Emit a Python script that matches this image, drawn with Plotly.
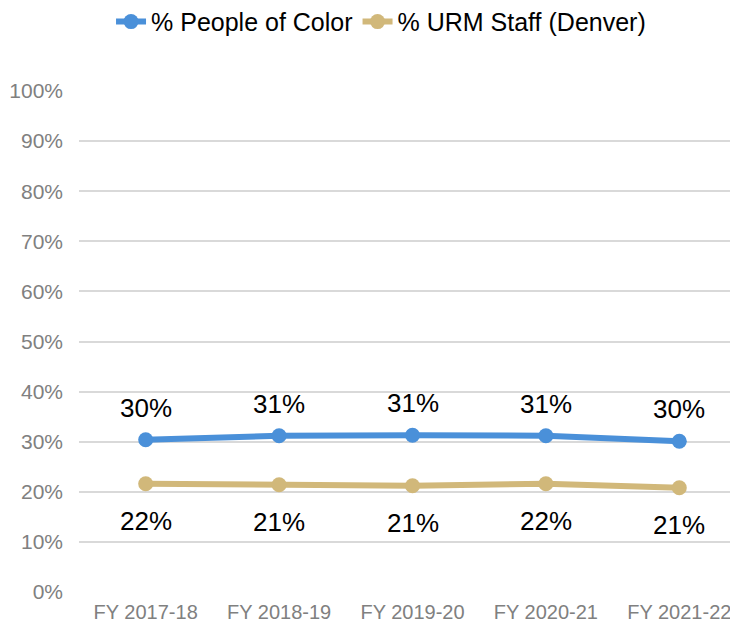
import plotly.graph_objects as go

categories = ["FY 2017-18", "FY 2018-19", "FY 2019-20", "FY 2020-21", "FY 2021-22"]
poc = [30.4, 31.2, 31.3, 31.2, 30.1]
urm = [21.6, 21.4, 21.2, 21.6, 20.8]
poc_labels = ["30%", "31%", "31%", "31%", "30%"]
urm_labels = ["22%", "21%", "21%", "22%", "21%"]
yticks = [0, 10, 20, 30, 40, 50, 60, 70, 80, 90, 100]
ytick_text = [f"{v}%" for v in yticks]

BLUE = "#4a90d9"
TAN = "#d1b87a"
FONT = "Liberation Sans, Arial"

fig = go.Figure()
fig.add_trace(go.Scatter(x=categories, y=poc, mode="lines+markers", name="% People of Color",
                         line=dict(color=BLUE, width=6), marker=dict(size=15, color=BLUE)))
fig.add_trace(go.Scatter(x=categories, y=urm, mode="lines+markers", name="% URM Staff (Denver)",
                         line=dict(color=TAN, width=6), marker=dict(size=15, color=TAN)))

for c, v, t in zip(categories, poc, poc_labels):
    fig.add_annotation(x=c, y=v, text=t, showarrow=False, yshift=32,
                       font=dict(size=26, color="#000000", family=FONT))
for c, v, t in zip(categories, urm, urm_labels):
    fig.add_annotation(x=c, y=v, text=t, showarrow=False, yshift=-37,
                       font=dict(size=26, color="#000000", family=FONT))

fig.update_layout(
    width=730, height=620,
    margin=dict(l=71, r=0, t=83, b=36, autoexpand=False),
    plot_bgcolor="white", paper_bgcolor="white",
    font=dict(family=FONT, color="#808080"),
    showlegend=True,
    legend=dict(orientation="h", x=0.511, xref="container", xanchor="center",
                y=1.138, yref="paper", yanchor="middle",
                font=dict(size=25, color="#000000"), traceorder="normal"),
    xaxis=dict(range=[-0.5, 4.44], showgrid=False, showline=False, zeroline=False,
               tickfont=dict(size=20, color="#808080"), ticks="", automargin=False,
               ticklabelstandoff=6),
    yaxis=dict(range=[0, 100], tickvals=yticks, ticktext=ytick_text, showgrid=True,
               gridcolor="#d9d9d9", gridwidth=1.5, zeroline=False, showline=False,
               tickfont=dict(size=21, color="#808080"), ticks="", ticklabelstandoff=15,
               automargin=False),
)

fig.write_html("out.html")
